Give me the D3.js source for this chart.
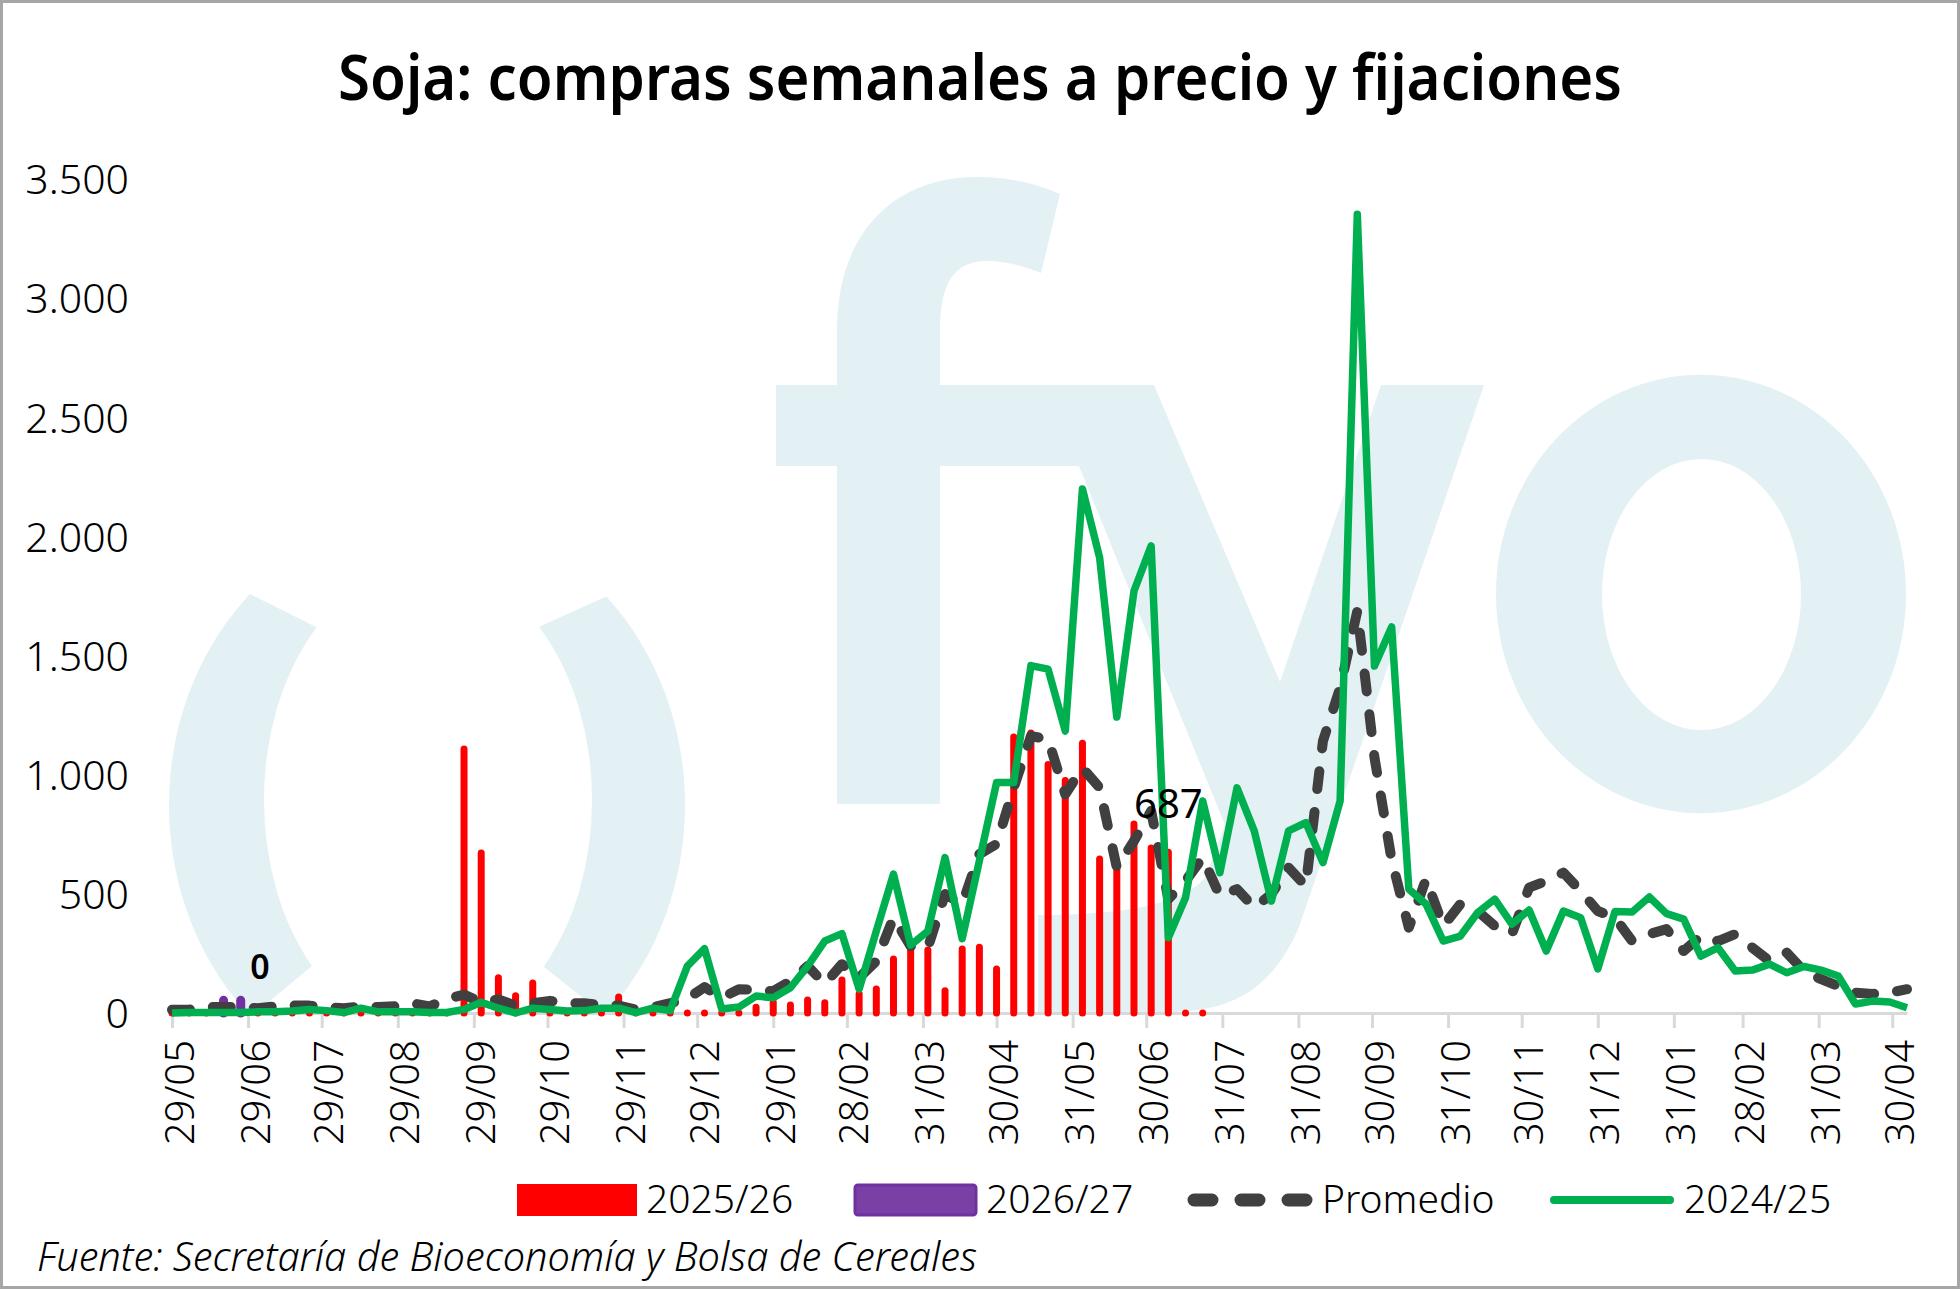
<!DOCTYPE html>
<html>
<head>
<meta charset="utf-8">
<script src="https://cdn.jsdelivr.net/npm/d3@7"></script>
<style>
  body { margin: 0; background: #fff; }
  svg { display: block; }
</style>
</head>
<body>
<script>
// ---- data (weekly) ----
var startWeek = "2024-05-29";

var tickDates = ["2024-05-29", "2024-06-29", "2024-07-29", "2024-08-29", "2024-09-29", "2024-10-29",
    "2024-11-29", "2024-12-29", "2025-01-29", "2025-02-28", "2025-03-31", "2025-04-30",
    "2025-05-31", "2025-06-30", "2025-07-31", "2025-08-31", "2025-09-30", "2025-10-31",
    "2025-11-30", "2025-12-31", "2026-01-31", "2026-02-28", "2026-03-31", "2026-04-30"];

var yTicks = [0, 500, 1000, 1500, 2000, 2500, 3000, 3500];

var serie2024_25 = [0, 2, 2, 2, 2, 5, 5, 8, 15, 10,
    2, 20, 5, 5, 5, 2, 2, 15, 45, 20,
    0, 20, 15, 8, 10, 20, 20, 2, 20, 10,
    197, 270, 17, 25, 71, 64, 106, 197, 302, 333,
    100, 344, 583, 285, 344, 652, 312, 639, 967, 967,
    1458, 1443, 1183, 2199, 1911, 1242, 1771, 1960, 316, 484,
    890, 589, 945, 764, 470, 764, 799, 631, 890, 3352,
    1456, 1620, 520, 457, 302, 323, 421, 478, 373, 432,
    260, 428, 400, 185, 426, 424, 487, 417, 394, 239,
    274, 176, 180, 205, 169, 195, 180, 155, 38, 50,
    46, 22];

var promedio = [14, 14, 25, 25, 25, 20, 28, 31, 31, 25,
    20, 28, 25, 28, 41, 28, 59, 77, 45, 57,
    31, 41, 51, 41, 41, 34, 31, 14, 25, 41,
    60, 109, 64, 100, 96, 92, 134, 197, 122, 205,
    148, 218, 400, 281, 274, 499, 457, 667, 709, 945,
    1162, 1149, 918, 1029, 945, 610, 722, 848, 478, 554,
    652, 491, 520, 442, 499, 610, 533, 1141, 1365, 1687,
    1072, 642, 358, 562, 365, 457, 428, 365, 331, 526,
    554, 589, 512, 428, 400, 302, 331, 352, 260, 323,
    302, 331, 274, 218, 253, 176, 142, 113, 85, 80,
    85, 100];

var serie2025_26 = [0, 0, 0, 0, 0, 0, 0, 0, 5, 0,
    0, 8, 0, 38, 0, 0, 5, 1120, 684, 160,
    85, 138, 5, 5, 5, 5, 80, 5, 5, 5,
    12, 13, 3, 3, 37, 58, 46, 67, 56, 151,
    92, 113, 239, 295, 277, 106, 281, 289, 197, 1171,
    1188, 1055, 988, 1145, 659, 640, 806, 705, 687, 0,
    0];

var serie2026_27 = [0, 0, 0, 70, 70, 0];

var legendNames = ["2025/26", "2026/27", "Promedio", "2024/25"];

var titleText = "Soja: compras semanales a precio y fijaciones";
var sourceText = "Fuente: Secretaría de Bioeconomía y Bolsa de Cereales";

// ---- setup ----
var width = 1960, height = 1289;
var font = "'Noto Sans', 'Open Sans', sans-serif";
var wmColor = "#e3f1f5";

var svg = d3.select("body")
    .append("svg")
    .attr("width", width)
    .attr("height", height);

svg.append("rect").attr("width", width).attr("height", height).attr("fill", "#fff");

var parse = d3.utcParse("%Y-%m-%d");
var start = parse(startWeek);
var weeks = d3.range(serie2024_25.length).map(function (i) { return d3.utcDay.offset(start, 7 * i); });

var x = d3.scaleUtc()
    .domain([weeks[0], weeks[weeks.length - 1]])
    .range([172, 1907]);

var y = d3.scaleLinear()
    .domain([0, 3500])
    .range([1013, 179]);

// ---- watermark (fyo logo) ----
var defs = svg.append("defs");
defs.append("clipPath").attr("id", "plotClip")
    .append("rect").attr("x", 120).attr("y", 120).attr("width", 1800).attr("height", y(0) - 120);

var ringClip = defs.append("clipPath").attr("id", "ringClip");
ringClip.append("polygon").attr("points", "90,500 90,1100 150,1100 451,851 436,687 126,532 90,514");
ringClip.append("polygon").attr("points", "442,671 748,532 800,520 800,1100 710,1100 432,877");

function ellipse(cx, cy, rx, ry) {
    return "M" + (cx - rx) + "," + cy + " a" + rx + "," + ry + " 0 1,0 " + (2 * rx) + ",0" +
        " a" + rx + "," + ry + " 0 1,0 " + (-2 * rx) + ",0 Z";
}

var wm = svg.append("g").attr("clip-path", "url(#plotClip)").attr("fill", wmColor);

wm.append("path")
    .attr("clip-path", "url(#ringClip)")
    .attr("fill-rule", "evenodd")
    .attr("d", ellipse(427, 805, 258, 290) + ellipse(428, 800, 164, 235));

// f
wm.append("path")
    .attr("d", "M837,804 L837,466 L776,466 L776,385 L837,385 L837,330 " +
        "C837,235 892,177 977,177 C1010,177 1038,184 1060,194 L1041,273 " +
        "C1024,266 1005,261 987,261 C955,261 940,282 940,330 L940,385 L1060,385 L1079,466 L940,466 L940,804 Z");

// y
wm.append("path")
    .attr("d", "M1046,385 L1154,385 L1280,682 L1381,385 L1484,385 L1299,927 " +
        "C1272,990 1232,1010 1174,1012 L1038,1040 L1038,915 C1120,915 1182,905 1205,878 L1225,825 Z");

// o
wm.append("path")
    .attr("fill-rule", "evenodd")
    .attr("d", ellipse(1701, 594, 205, 219) + ellipse(1701.5, 594.5, 99.5, 135.5));

// ---- axes ----
var xAxis = d3.axisBottom(x)
    .tickValues(tickDates.map(parse))
    .tickFormat(d3.utcFormat("%d/%m"))
    .tickSize(15)
    .tickSizeOuter(0);

var gx = svg.append("g")
    .attr("transform", "translate(0," + y(0) + ")")
    .call(xAxis);

gx.select(".domain").attr("stroke", "#d9d9d9").attr("stroke-width", 3);
gx.selectAll(".tick line").attr("stroke", "#d9d9d9").attr("stroke-width", 3);
gx.selectAll(".tick text")
    .attr("transform", "rotate(-90)")
    .attr("x", -27)
    .attr("y", 21)
    .attr("dy", 0)
    .attr("text-anchor", "end")
    .attr("font-family", font)
    .attr("font-weight", 300)
    .attr("font-size", 40)
    .attr("fill", "#000");

var fmt = d3.formatLocale({ decimal: ",", thousands: ".", grouping: [3], currency: ["$", ""] }).format(",");

var gy = svg.append("g")
    .attr("transform", "translate(129,0)")
    .call(d3.axisLeft(y).tickValues(yTicks).tickFormat(fmt).tickSize(0).tickPadding(0));

gy.select(".domain").remove();
gy.selectAll(".tick text")
    .attr("font-family", font)
    .attr("font-weight", 300)
    .attr("font-size", 41)
    .attr("dy", "0.36em")
    .attr("fill", "#000");

// ---- bars ----
svg.append("g")
    .selectAll("line")
    .data(serie2025_26)
    .enter().append("line")
    .attr("x1", function (d, i) { return x(weeks[i]); })
    .attr("x2", function (d, i) { return x(weeks[i]); })
    .attr("y1", y(0))
    .attr("y2", function (d) { return Math.min(y(0), y(d) + 3); })
    .attr("stroke", "#ff0000")
    .attr("stroke-width", 7)
    .attr("stroke-linecap", "round");

svg.append("g")
    .selectAll("line")
    .data(serie2026_27)
    .enter().append("line")
    .attr("x1", function (d, i) { return x(weeks[i]); })
    .attr("x2", function (d, i) { return x(weeks[i]); })
    .attr("y1", y(0))
    .attr("y2", function (d) { return Math.min(y(0), y(d) + 4); })
    .attr("stroke", function (d) { return d > 0 ? "#7030a0" : "none"; })
    .attr("stroke-width", 9)
    .attr("stroke-linecap", "round");

// ---- lines ----
var line = d3.line()
    .x(function (d, i) { return x(weeks[i]); })
    .y(function (d) { return y(d); });

svg.append("path")
    .datum(promedio)
    .attr("d", line)
    .attr("fill", "none")
    .attr("stroke", "#404040")
    .attr("stroke-width", 10)
    .attr("stroke-dasharray", "18 23")
    .attr("stroke-linecap", "round")
    .attr("stroke-linejoin", "round");

svg.append("path")
    .datum(serie2024_25)
    .attr("d", line)
    .attr("fill", "none")
    .attr("stroke", "#00b050")
    .attr("stroke-width", 7.5)
    .attr("stroke-linejoin", "round");

// ---- data labels (last value of each season) ----
var iPurple = serie2026_27.length - 1;
svg.append("text")
    .attr("x", x(weeks[iPurple]) + 2)
    .attr("y", y(serie2026_27[iPurple]) - 34)
    .attr("text-anchor", "middle")
    .attr("font-family", font)
    .attr("font-weight", 600)
    .attr("font-size", 34)
    .text(serie2026_27[iPurple]);

var iRed = 58;
svg.append("text")
    .attr("x", x(weeks[iRed]))
    .attr("y", y(serie2025_26[iRed]) - 31)
    .attr("text-anchor", "middle")
    .attr("font-family", font)
    .attr("font-size", 40)
    .text(serie2025_26[iRed]);

// ---- title and source ----
svg.append("text")
    .attr("x", 338)
    .attr("y", 100)
    .attr("font-family", font)
    .attr("font-weight", 600)
    .attr("font-size", 64)
    .attr("textLength", 1284)
    .attr("lengthAdjust", "spacingAndGlyphs")
    .text(titleText);

svg.append("text")
    .attr("x", 37)
    .attr("y", 1271)
    .attr("font-family", font)
    .attr("font-style", "italic")
    .attr("font-weight", 300)
    .attr("font-size", 40)
    .attr("textLength", 940)
    .attr("lengthAdjust", "spacingAndGlyphs")
    .text(sourceText);

// ---- legend ----
var lg = svg.append("g").attr("font-family", font).attr("font-weight", 300).attr("font-size", 39);

lg.append("rect").attr("x", 517).attr("y", 1184).attr("width", 120).attr("height", 32).attr("fill", "#ff0000");
lg.append("text").attr("x", 646).attr("y", 1213).text(legendNames[0]);

lg.append("rect").attr("x", 855).attr("y", 1185).attr("width", 121).attr("height", 30).attr("rx", 3)
    .attr("fill", "#7a40a6").attr("stroke", "#7030a0").attr("stroke-width", 3);
lg.append("text").attr("x", 986).attr("y", 1213).text(legendNames[1]);

lg.append("line").attr("x1", 1194).attr("x2", 1306).attr("y1", 1200).attr("y2", 1200)
    .attr("stroke", "#404040").attr("stroke-width", 13).attr("stroke-linecap", "round")
    .attr("stroke-dasharray", "18 29");
lg.append("text").attr("x", 1322).attr("y", 1213).text(legendNames[2]);

lg.append("line").attr("x1", 1554).attr("x2", 1670).attr("y1", 1200).attr("y2", 1200)
    .attr("stroke", "#00b050").attr("stroke-width", 8).attr("stroke-linecap", "round");
lg.append("text").attr("x", 1684).attr("y", 1213).text(legendNames[3]);

// ---- frame ----
svg.append("rect")
    .attr("x", 1.5).attr("y", 1.5)
    .attr("width", width - 3).attr("height", height - 3)
    .attr("fill", "none")
    .attr("stroke", "#a6a6a6")
    .attr("stroke-width", 3);
</script>
</body>
</html>
